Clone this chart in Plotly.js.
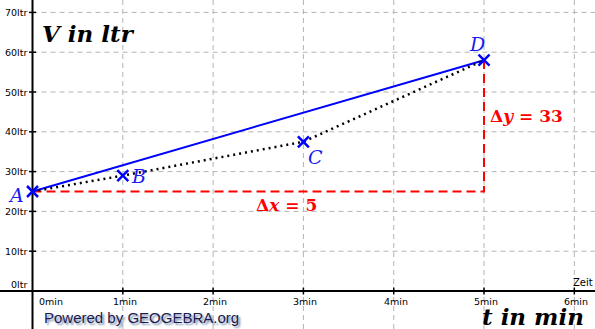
<!DOCTYPE html>
<html>
<head>
<meta charset="utf-8">
<script src="https://cdn.plot.ly/plotly-3.0.1.min.js"></script>
<style>html,body{margin:0;padding:0;background:#fff;}#chart{width:595px;height:329px;}</style>
</head>
<body>
<div id="chart"></div>
<script>
// Data
const pointNames = ["A", "B", "C", "D"];
const timeMin = [0, 1, 3, 5];
const volumeLtr = [25, 29, 37.5, 58];
const xTickVals = [0, 1, 2, 3, 4, 5, 6];
const xTickText = ["0min", "1min", "2min", "3min", "4min", "5min", "6min"];
const yTickVals = [0, 10, 20, 30, 40, 50, 60, 70];
const yTickText = ["0ltr", "10ltr", "20ltr", "30ltr", "40ltr", "50ltr", "60ltr", "70ltr"];
const deltaXText = "<b>Δ<i>x</i> = 5</b>";
const deltaYText = "<b>Δ<i>y</i> = 33</b>";

const XR = [-0.36, 6.229];
const YR = [-9.55, 73.12];
const blue = "#0000ff";
const red = "#ff0000";

const A = {x: timeMin[0], y: volumeLtr[0]};
const D = {x: timeMin[3], y: volumeLtr[3]};

const traces = [
  {x: [A.x, D.x, D.x], y: [A.y, A.y, D.y], mode: "lines", line: {color: red, width: 2, dash: "9px,5px"}, hoverinfo: "skip"},
  {x: [A.x, D.x], y: [A.y, D.y], mode: "lines", line: {color: blue, width: 2}, hoverinfo: "skip"},
  {x: timeMin, y: volumeLtr, mode: "lines", line: {color: "#000", width: 2.5, dash: "2px,4px"}, hoverinfo: "skip"},
  {x: timeMin, y: volumeLtr, mode: "markers", marker: {symbol: "x-thin", size: 11, line: {color: blue, width: 2.5}}, hoverinfo: "skip"},
  {x: xTickVals.slice(1), y: xTickVals.slice(1).map(() => 0), mode: "markers", marker: {symbol: "line-ns", size: 5, line: {color: "#000", width: 1.5}}, hoverinfo: "skip"},
  {x: yTickVals.slice(1).map(() => 0), y: yTickVals.slice(1), mode: "markers", marker: {symbol: "line-ew", size: 5, line: {color: "#000", width: 1.5}}, hoverinfo: "skip"}
];

const shapes = [];
xTickVals.slice(1).forEach(v => shapes.push({type: "line", layer: "below", xref: "x", yref: "paper", x0: v, x1: v, y0: 0, y1: 1, line: {color: "#b4b4b4", width: 1, dash: "5px,4px"}}));
yTickVals.slice(1).forEach(v => shapes.push({type: "line", layer: "below", xref: "x", yref: "y", x0: 0, x1: XR[1], y0: v, y1: v, line: {color: "#b4b4b4", width: 1, dash: "5px,4px"}}));
shapes.push({type: "line", layer: "below", xref: "paper", yref: "y", x0: 0, x1: 1, y0: 0, y1: 0, line: {color: "#000", width: 2}});
shapes.push({type: "line", layer: "below", xref: "x", yref: "paper", x0: 0, x1: 0, y0: 0, y1: 1, line: {color: "#000", width: 2}});

const tickFont = {family: "DejaVu Sans", size: 9.5, color: "#000"};
const annotations = [];
xTickVals.forEach((v, i) => annotations.push({x: v, y: 0, xref: "x", yref: "y", text: xTickText[i], showarrow: false, font: tickFont, xanchor: "center", yanchor: "middle", xshift: i === 0 ? 18 : 2, yshift: -11}));
yTickVals.forEach((v, i) => annotations.push({x: 0, y: v, xref: "x", yref: "y", text: yTickText[i], showarrow: false, font: tickFont, xanchor: "right", yanchor: "middle", xshift: -4, yshift: i === 0 ? 6 : 0}));
annotations.push({x: 6, y: 0, xref: "x", yref: "y", text: "Zeit", showarrow: false, font: {family: "DejaVu Sans", size: 10, color: "#000"}, xanchor: "left", yanchor: "bottom", xshift: -3, yshift: 1});

const ptFont = {family: "DejaVu Serif", size: 19, color: "#1a1aee", style: "italic"};
const ptShift = [[-17, -3.5], [16, 0], [12, -15], [-7, 16]];
pointNames.forEach((n, i) => annotations.push({x: timeMin[i], y: volumeLtr[i], xref: "x", yref: "y", text: n, showarrow: false, font: ptFont, xanchor: "center", yanchor: "middle", xshift: ptShift[i][0], yshift: ptShift[i][1]}));

const redFont = {family: "DejaVu Serif", size: 17, color: red};
annotations.push({x: (A.x + D.x) / 2, y: A.y, xref: "x", yref: "y", text: deltaXText, showarrow: false, font: redFont, xanchor: "center", yanchor: "middle", xshift: 28, yshift: -13.5});
annotations.push({x: D.x, y: (A.y + D.y) / 2, xref: "x", yref: "y", text: deltaYText, showarrow: false, font: redFont, xanchor: "left", yanchor: "middle", xshift: 4, yshift: 10});

const titleFont = {family: "DejaVu Serif", size: 23, color: "#000", style: "italic", weight: "bold"};
annotations.push({xref: "paper", yref: "paper", x: 40 / 595, y: 1 - 34 / 329, text: "V in ltr", showarrow: false, font: titleFont, xanchor: "left", yanchor: "middle"});
annotations.push({xref: "paper", yref: "paper", x: 586 / 595, y: 1 - 316 / 329, text: "t in min", showarrow: false, font: titleFont, xanchor: "right", yanchor: "middle"});
annotations.push({xref: "paper", yref: "paper", x: 42 / 595, y: 1 - 317 / 329, text: "Powered by GEOGEBRA.org", showarrow: false, font: {family: "Liberation Sans", size: 15, color: "#1a1a4e", shadow: "2px 2px 2px #7a8fb0"}, xanchor: "left", yanchor: "middle"});

const layout = {
  width: 595, height: 329,
  margin: {l: 0, r: 0, t: 0, b: 0},
  paper_bgcolor: "#fff", plot_bgcolor: "#fff",
  showlegend: false,
  xaxis: {range: XR, showgrid: false, zeroline: false, showticklabels: false, ticks: "", showline: false, fixedrange: true},
  yaxis: {range: YR, showgrid: false, zeroline: false, showticklabels: false, ticks: "", showline: false, fixedrange: true},
  shapes: shapes,
  annotations: annotations
};

Plotly.newPlot("chart", traces, layout, {staticPlot: true, displayModeBar: false});
</script>
</body>
</html>
